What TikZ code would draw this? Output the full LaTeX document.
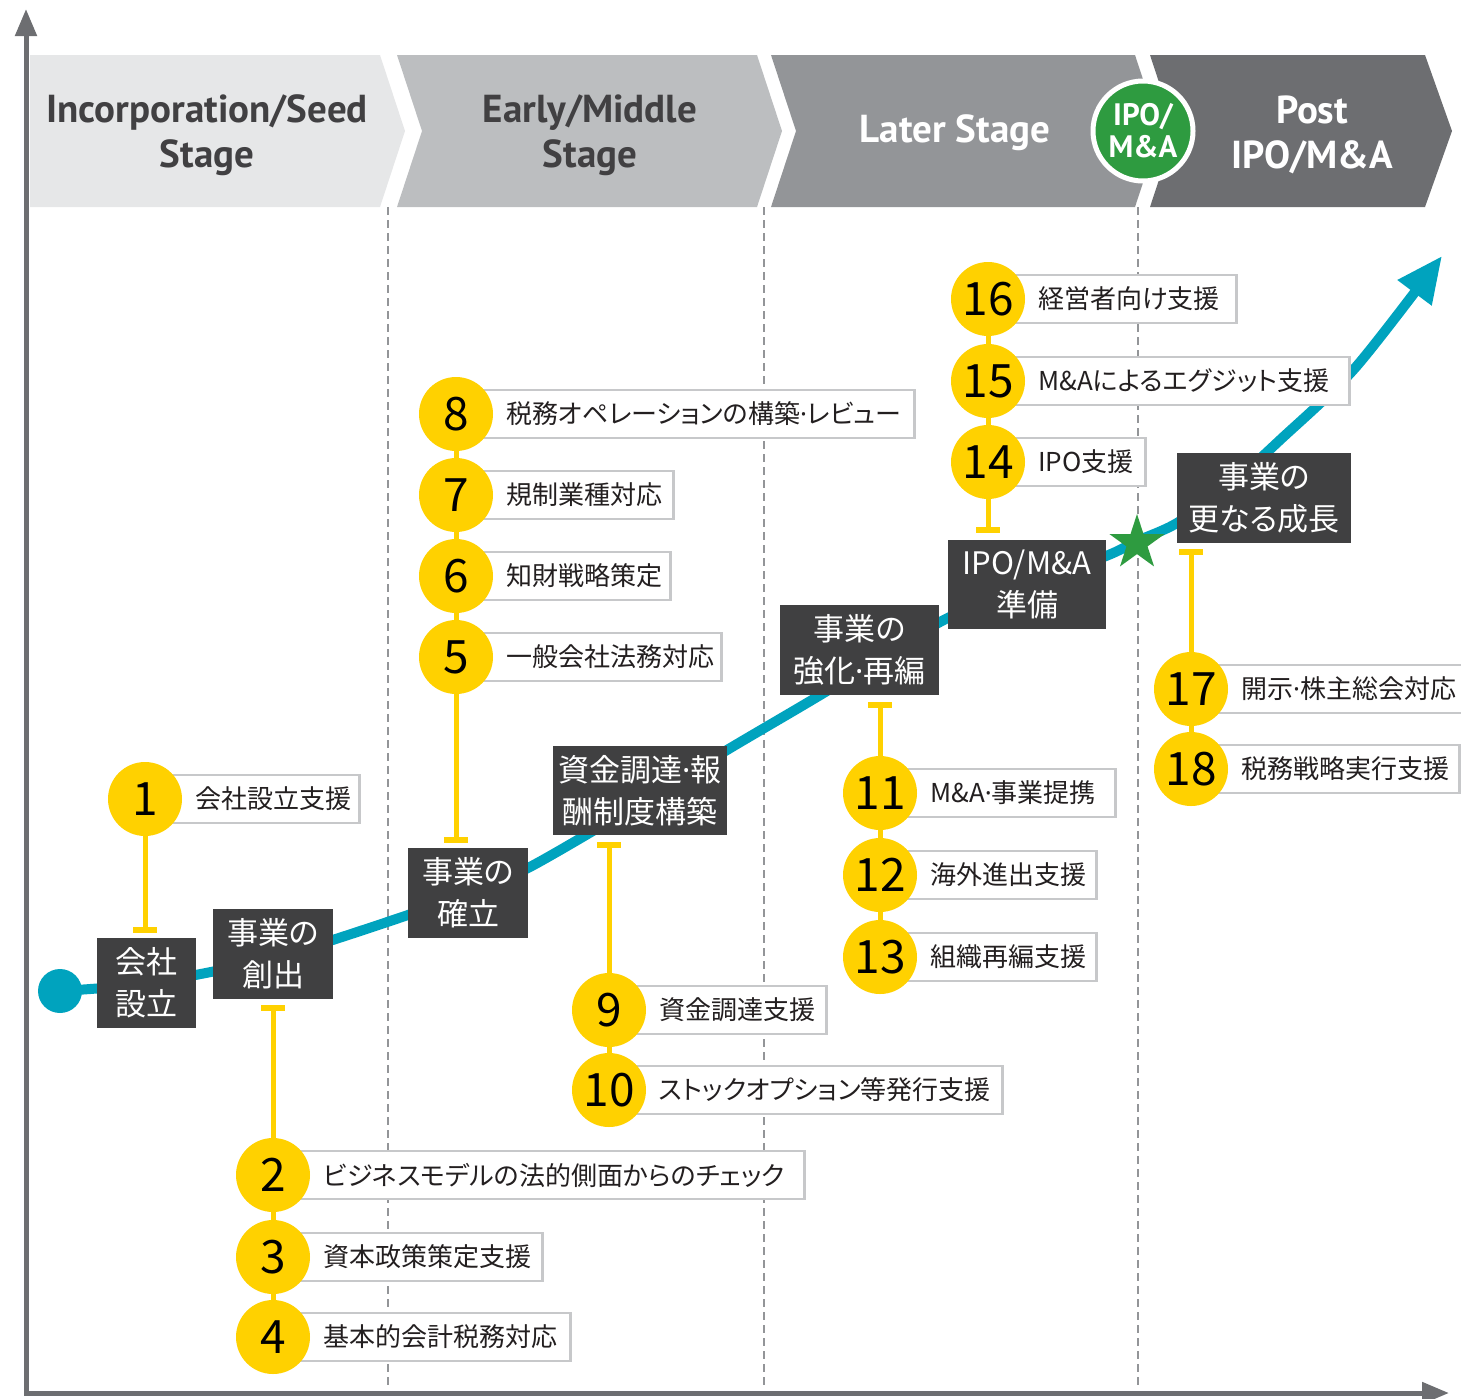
\documentclass[tikz,border=0pt]{standalone}
\usepackage{fontspec}
\setmainfont{Noto Sans CJK JP}
\newfontfamily\jp{Noto Sans CJK JP}
\newfontfamily\jpp[RawFeature=+palt]{Noto Sans CJK JP}
\newfontfamily\hdr{PT Sans}
\newfontfamily\latinf{Noto Sans}
\newcommand\mdot{{\latinf\char"00B7}}
\usetikzlibrary{arrows.meta,shapes.geometric}
\definecolor{stA}{HTML}{E6E7E8}
\definecolor{stB}{HTML}{BCBEC0}
\definecolor{stC}{HTML}{939598}
\definecolor{stD}{HTML}{6D6E71}
\definecolor{hdrtxt}{HTML}{414042}
\definecolor{teal}{HTML}{00A3BE}
\definecolor{ylw}{HTML}{FFD100}
\definecolor{dkbox}{HTML}{404041}
\definecolor{grn}{HTML}{2E9B40}
\definecolor{lgray}{HTML}{C7C8CA}
\definecolor{txtc}{HTML}{231F20}
\tikzset{
  hdrfont/.style={font=\hdr\bfseries\fontsize{39}{45}\selectfont, align=center},
  axisline/.style={draw=stD, line width=5pt, line join=miter},
  dashline/.style={draw=stC, line width=2pt, dash pattern=on 8pt off 5pt},
  curveline/.style={draw=teal, line width=10pt},
  dbox/.style={fill=dkbox, text=white, align=center, inner sep=0pt,
    font=\jpp\fontsize{31}{42}\selectfont},
  lblbox/.style={draw=lgray, line width=2.5pt, fill=white, minimum height=48pt, inner sep=0pt},
  lbltext/.style={text=txtc, inner sep=0pt, anchor=west, font=\jpp\fontsize{26}{30}\selectfont},
  num/.style={circle, fill=ylw, minimum size=74pt, inner sep=0pt, text=black,
    font=\jp\fontsize{46}{46}\selectfont},
  yline/.style={draw=ylw, line width=5pt},
  ybar/.style={draw=ylw, line width=6pt},
}
\newcommand\svcbox[5]{%
  \node[lblbox, minimum width={#4-#2}, anchor=west] (b#1) at (#2,#3) {};
  \node[lbltext] (t#1) at (#2+50,#3) {#5};
}
\newcommand\svcnum[3]{\node[num] (n#1) at (#2,#3) {#1};}
\begin{document}
\begin{tikzpicture}[x=1pt,y=-1pt]
\useasboundingbox (0,0) rectangle (1461,1398);
% stage chevrons
\fill[stA] (30,55) -- (380,55) -- (405,131) -- (380,207) -- (30,207) -- cycle;
\fill[stB] (397,55) -- (757,55) -- (782,131) -- (757,207) -- (397,207) -- (422,131) -- cycle;
\fill[stC] (771,55) -- (1135,55) -- (1160,131) -- (1135,207) -- (771,207) -- (796,131) -- cycle;
\fill[stD] (1150,55) -- (1425,55) -- (1452,131) -- (1425,207) -- (1150,207) -- (1175,131) -- cycle;
\node[hdrfont, text=hdrtxt] (h1) at (207,135) {Incorporation/Seed\\Stage};
\node[hdrfont, text=hdrtxt] (h2) at (590,135) {Early/Middle\\Stage};
\node[hdrfont, text=white] (h3) at (955,133) {Later Stage};
\node[hdrfont, text=white] (h4) at (1312,135) {Post\\IPO/M\&A};
\node[circle, fill=grn, draw=white, line width=5pt, minimum size=100pt, inner sep=0pt,
  text=white, align=center, font=\hdr\bfseries\fontsize{31}{32}\selectfont] (ipo) at (1143,131) {IPO/\\M\&A};
% dashed separators
\foreach \x in {388,764,1138} \draw[dashline] (\x,207) -- (\x,1385);
% axes
\coordinate (origin) at (26,1393);
\coordinate (ytop) at (26,9);
\coordinate (xend) at (1449,1393);
\draw[axisline, {Triangle[length=27pt,width=21pt]}-{Triangle[length=27pt,width=21pt]}] (ytop) -- (origin) -- (xend);
% growth curve
\draw[curveline, -{Triangle[length=46pt,width=40pt]}] plot[smooth, tension=0.5] coordinates {
 (60,991) (150,983) (273,958) (408,915) (468,892) (528,868) (640,803) (727,750) (822,694)
 (940,622) (1025,585) (1106,556) (1137,541) (1177,523) (1230,485) (1280,440) (1355,368) (1442,256)};
\node[circle, fill=teal, minimum size=44pt, inner sep=0pt] (dot) at (60,991) {};
\node[star, star points=5, star point ratio=2.618, fill=grn, minimum size=58pt, inner sep=0pt] (star) at (1137,543) {};
% dark stage boxes
\node[dbox, minimum width=99pt, minimum height=90pt] (k1) at (146.5,983) {会社\\設立};
\node[dbox, minimum width=120pt, minimum height=90pt] (k2) at (273,954) {事業の\\創出};
\node[dbox, minimum width=120pt, minimum height=90pt] (k3) at (468,893) {事業の\\確立};
\node[dbox, minimum width=174pt, minimum height=89pt] (k4) at (640,790.5) {資金調達\mdot 報\\酬制度構築};
\node[dbox, minimum width=159pt, minimum height=90pt] (k5) at (859.5,650) {事業の\\強化\mdot 再編};
\node[dbox, minimum width=158pt, minimum height=89pt] (k6) at (1027,584.5) {IPO/M\&A\\準備};
\node[dbox, minimum width=174pt, minimum height=90pt] (k7) at (1264,498) {事業の\\更なる成長};
% label boxes
\svcbox{1}{145}{799}{358}{会社設立支援}
\svcbox{2}{273}{1175}{803}{ビジネスモデルの法的側面からのチェック}
\svcbox{3}{273}{1257}{541}{資本政策策定支援}
\svcbox{4}{273}{1337}{569}{基本的会計税務対応}
\svcbox{5}{456}{657}{720}{一般会社法務対応}
\svcbox{6}{456}{576}{669}{知財戦略策定}
\svcbox{7}{456}{495}{672}{規制業種対応}
\svcbox{8}{456}{414}{913}{税務オペレーションの構築\mdot レビュー}
\svcbox{9}{609}{1010}{825}{資金調達支援}
\svcbox{10}{609}{1090}{1001}{ストックオプション等発行支援}
\svcbox{11}{880}{793}{1114}{M\&A\mdot 事業提携}
\svcbox{12}{880}{875}{1095}{海外進出支援}
\svcbox{13}{880}{957}{1095}{組織再編支援}
\svcbox{14}{988}{462}{1144}{IPO支援}
\svcbox{15}{988}{381}{1348}{M\&Aによるエグジット支援}
\svcbox{16}{988}{299}{1235}{経営者向け支援}
\svcbox{17}{1191}{689}{1472}{開示\mdot 株主総会対応}
\svcbox{18}{1191}{769}{1458}{税務戦略実行支援}
% number circles
\svcnum{1}{145}{799}
\svcnum{2}{273}{1175}
\svcnum{3}{273}{1257}
\svcnum{4}{273}{1337}
\svcnum{5}{456}{657}
\svcnum{6}{456}{576}
\svcnum{7}{456}{495}
\svcnum{8}{456}{414}
\svcnum{9}{609}{1010}
\svcnum{10}{609}{1090}
\svcnum{11}{880}{793}
\svcnum{12}{880}{875}
\svcnum{13}{880}{957}
\svcnum{14}{988}{462}
\svcnum{15}{988}{381}
\svcnum{16}{988}{299}
\svcnum{17}{1191}{689}
\svcnum{18}{1191}{769}
% yellow connectors
\coordinate (tb1) at (145,930);
\coordinate (tb2) at (273,1008);
\coordinate (tb3) at (456,840);
\coordinate (tb4) at (609,845);
\coordinate (tb5) at (880,705);
\coordinate (tb6) at (988,530);
\coordinate (tb7) at (1191,552);
\draw[yline] (n1) -- (tb1);
\draw[yline] (tb2) -- (n2) -- (n3) -- (n4);
\draw[yline] (tb3) -- (n5) -- (n6) -- (n7) -- (n8);
\draw[yline] (tb4) -- (n9) -- (n10);
\draw[yline] (tb5) -- (n11) -- (n12) -- (n13);
\draw[yline] (tb6) -- (n14) -- (n15) -- (n16);
\draw[yline] (tb7) -- (n17) -- (n18);
\foreach \t in {tb1,tb2,tb3,tb4,tb5,tb6,tb7}
  \draw[ybar] ([xshift=-12pt]\t) -- ([xshift=12pt]\t);
\end{tikzpicture}
\end{document}
